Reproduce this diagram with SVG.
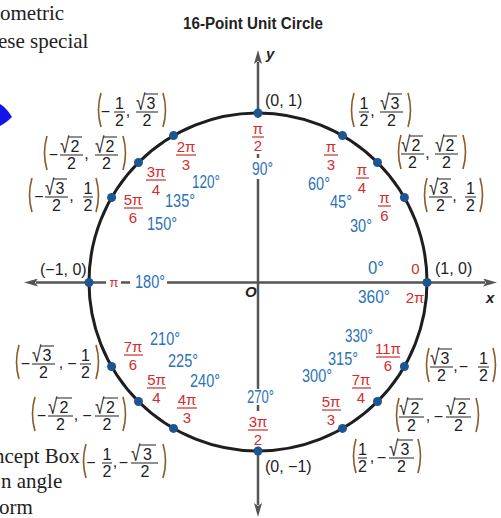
<svg xmlns="http://www.w3.org/2000/svg" width="501" height="518" viewBox="0 0 501 518">
<style>
text{font-family:"Liberation Sans",Arial,sans-serif}
.bk{font-family:"Liberation Serif","Times New Roman",serif;font-size:21px;fill:#222}
.ttl{font-size:16px;font-weight:bold;fill:#222}
.c{font-size:16px;fill:#222;text-anchor:middle}
.cs{font-size:16px;fill:#222}
.sq{font-size:17px;fill:#222}
.d{font-size:18px;fill:#2a72b5}
.r{font-size:15px;fill:#d42b2b;text-anchor:middle}
.rb{stroke:#d42b2b;stroke-width:1.2}
.cb{stroke:#333;stroke-width:1.1}
.ob{stroke:#333;stroke-width:1.1}
.pa{fill:none;stroke:#8a5a28;stroke-width:1.6}
.dot{fill:#1d5590}
.ax{stroke:#555;stroke-width:2.5;fill:none}
.axl{font-size:15px;font-weight:bold;font-style:italic;fill:#222}
</style>
<defs>
<marker id="arr" viewBox="0 0 14 8" refX="2" refY="4" markerWidth="14" markerHeight="8" markerUnits="userSpaceOnUse" orient="auto">
<path d="M0,0 L14,4 L0,8 L3,4 Z" fill="#555"/>
</marker>
</defs>
<rect width="501" height="518" fill="#fff"/>
<g id="page">
<text class="bk" x="0" y="20">ometric</text>
<text class="bk" x="-2" y="48">ese special</text>
<path d="M0,104 C5,107 9,112 12,117 C8,121 4,124 0,126 Z" fill="#1515e8"/>
<text class="bk" x="-6" y="463">ncept Box</text>
<text class="bk" x="1" y="488">n angle</text>
<text class="bk" x="-1" y="514">orm</text>
</g>
<text class="ttl" x="183" y="29" textLength="140" lengthAdjust="spacingAndGlyphs">16-Point Unit Circle</text>
<g id="connectors">
<circle cx="258" cy="282" r="169" fill="none" stroke="#1e1e1e" stroke-width="3"/>
<path class="ax" d="M106,282.5 L36,282.5" marker-end="url(#arr)"/>
<path class="ax" d="M121,282.5 L130,282.5"/>
<path class="ax" d="M167,282.5 L485,282.5" marker-end="url(#arr)"/>
<path class="ax" d="M258,118 L258,62" marker-end="url(#arr)"/>
<path class="ax" d="M258,154 L258,158"/>
<path class="ax" d="M258,179 L258,389"/>
<path class="ax" d="M258,405 L258,411"/>
<path class="ax" d="M258,447 L258,505" marker-end="url(#arr)"/>
</g>
<text class="axl" x="266" y="59">y</text>
<text class="axl" x="486" y="303">x</text>
<text class="axl" x="245" y="297">O</text>

<g id="p0">
<circle class="dot" cx="427" cy="282.5" r="4.5"/>
<text class="cs" x="435" y="274">(1, 0)</text>
<text class="r" x="415.5" y="274">0</text>
<text class="r" x="415" y="303">2π</text>
<text class="d" x="368" y="274" textLength="16" lengthAdjust="spacingAndGlyphs">0°</text>
<text class="d" x="358" y="303" textLength="32" lengthAdjust="spacingAndGlyphs">360°</text>
</g>

<g id="p30">
<circle class="dot" cx="404.4" cy="197.5" r="4.5"/>
<path class="pa" d="M427,178 Q422,195 427,212"/>
<text class="sq" transform="matrix(1,0,0,1.3,429,195)">√</text><line class="ob" x1="437" y1="179" x2="451" y2="179"/><text class="c" x="444" y="194">3</text>
<line class="cb" x1="429" y1="197" x2="452" y2="197"/><text class="c" x="440.5" y="211">2</text>
<text class="c" x="454.5" y="201">,</text>
<text class="c" x="470.5" y="194">1</text><line class="cb" x1="465" y1="197" x2="476" y2="197"/><text class="c" x="470.5" y="211">2</text>
<path class="pa" d="M480,178 Q485,195 480,212"/>
<text class="r" x="384.5" y="203">π</text><line class="rb" x1="378" y1="206" x2="391" y2="206"/><text class="r" x="384.5" y="221">6</text>
<text class="d" x="350" y="232" textLength="22" lengthAdjust="spacingAndGlyphs">30°</text>
</g>

<g id="p45">
<circle class="dot" cx="377.5" cy="162.5" r="4.5"/>
<path class="pa" d="M401,135 Q396,152 401,169"/>
<text class="sq" transform="matrix(1,0,0,1.3,401,152)">√</text><line class="ob" x1="409" y1="136" x2="423" y2="136"/><text class="c" x="416" y="151">2</text>
<line class="cb" x1="401" y1="154" x2="424" y2="154"/><text class="c" x="412.5" y="168">2</text>
<text class="c" x="427.5" y="158">,</text>
<text class="sq" transform="matrix(1,0,0,1.3,435,152)">√</text><line class="ob" x1="443" y1="136" x2="457" y2="136"/><text class="c" x="450" y="151">2</text>
<line class="cb" x1="435" y1="154" x2="458" y2="154"/><text class="c" x="446.5" y="168">2</text>
<path class="pa" d="M463,135 Q468,152 463,169"/>
<text class="r" x="362" y="175">π</text><line class="rb" x1="356" y1="178" x2="369" y2="178"/><text class="r" x="362" y="193">4</text>
<text class="d" x="330" y="208" textLength="22" lengthAdjust="spacingAndGlyphs">45°</text>
</g>

<g id="p60">
<circle class="dot" cx="342.5" cy="135.6" r="4.5"/>
<path class="pa" d="M354,93 Q349,110 354,127"/>
<text class="c" x="364" y="109">1</text><line class="cb" x1="359" y1="112" x2="369" y2="112"/><text class="c" x="364" y="126">2</text>
<text class="c" x="372.5" y="116">,</text>
<text class="sq" transform="matrix(1,0,0,1.3,380,110)">√</text><line class="ob" x1="388" y1="94" x2="402" y2="94"/><text class="c" x="395" y="109">3</text>
<line class="cb" x1="380" y1="112" x2="403" y2="112"/><text class="c" x="391.5" y="126">2</text>
<path class="pa" d="M408,93 Q413,110 408,127"/>
<text class="r" x="331" y="152">π</text><line class="rb" x1="324" y1="155" x2="338" y2="155"/><text class="r" x="331" y="170">3</text>
<text class="d" x="308" y="190" textLength="22" lengthAdjust="spacingAndGlyphs">60°</text>
</g>

<g id="p90">
<circle class="dot" cx="258" cy="113" r="4.5"/>
<text class="cs" x="265" y="106">(0, 1)</text>
<text class="r" x="258" y="134">π</text><line class="rb" x1="252" y1="137" x2="264" y2="137"/><text class="r" x="258" y="151">2</text>
<text class="d" x="252" y="175" textLength="21" lengthAdjust="spacingAndGlyphs">90°</text>
</g>

<g id="p120">
<circle class="dot" cx="173.5" cy="135.6" r="4.5"/>
<path class="pa" d="M101,93 Q96,110 101,127"/>
<text class="c" x="105.5" y="117">−</text>
<text class="c" x="119.5" y="109">1</text><line class="cb" x1="114" y1="112" x2="125" y2="112"/><text class="c" x="119.5" y="126">2</text>
<text class="c" x="128" y="116">,</text>
<text class="sq" transform="matrix(1,0,0,1.3,136,110)">√</text><line class="ob" x1="144" y1="94" x2="158" y2="94"/><text class="c" x="151" y="109">3</text>
<line class="cb" x1="136" y1="112" x2="158" y2="112"/><text class="c" x="147" y="126">2</text>
<path class="pa" d="M163,93 Q168,110 163,127"/>
<text class="r" x="186" y="152">2π</text><line class="rb" x1="176" y1="155" x2="196" y2="155"/><text class="r" x="186" y="170">3</text>
<text class="d" x="192" y="188" textLength="28" lengthAdjust="spacingAndGlyphs">120°</text>
</g>

<g id="p135">
<circle class="dot" cx="138.5" cy="162.5" r="4.5"/>
<path class="pa" d="M47,136 Q42,153 47,170"/>
<text class="c" x="53.5" y="160">−</text>
<text class="sq" transform="matrix(1,0,0,1.3,60,153)">√</text><line class="ob" x1="68" y1="137" x2="82" y2="137"/><text class="c" x="75" y="152">2</text>
<line class="cb" x1="60" y1="155" x2="83" y2="155"/><text class="c" x="71.5" y="169">2</text>
<text class="c" x="86.5" y="159">,</text>
<text class="sq" transform="matrix(1,0,0,1.3,95,153)">√</text><line class="ob" x1="103" y1="137" x2="117" y2="137"/><text class="c" x="110" y="152">2</text>
<line class="cb" x1="95" y1="155" x2="118" y2="155"/><text class="c" x="106.5" y="169">2</text>
<path class="pa" d="M123,136 Q128,153 123,170"/>
<text class="r" x="156" y="177">3π</text><line class="rb" x1="146" y1="180" x2="166" y2="180"/><text class="r" x="156" y="195">4</text>
<text class="d" x="165" y="207" textLength="30" lengthAdjust="spacingAndGlyphs">135°</text>
</g>

<g id="p150">
<circle class="dot" cx="111.6" cy="197.5" r="4.5"/>
<path class="pa" d="M32,178 Q27,195 32,212"/>
<text class="c" x="39" y="202">−</text>
<text class="sq" transform="matrix(1,0,0,1.3,45,195)">√</text><line class="ob" x1="53" y1="179" x2="67" y2="179"/><text class="c" x="60" y="194">3</text>
<line class="cb" x1="45" y1="197" x2="68" y2="197"/><text class="c" x="56.5" y="211">2</text>
<text class="c" x="71.5" y="201">,</text>
<text class="c" x="88" y="194">1</text><line class="cb" x1="83" y1="197" x2="93" y2="197"/><text class="c" x="88" y="211">2</text>
<path class="pa" d="M96,178 Q101,195 96,212"/>
<text class="r" x="133" y="205">5π</text><line class="rb" x1="124" y1="208" x2="143" y2="208"/><text class="r" x="133" y="223">6</text>
<text class="d" x="147" y="230" textLength="30" lengthAdjust="spacingAndGlyphs">150°</text>
</g>

<g id="p180">
<circle class="dot" cx="89" cy="282.5" r="4.5"/>
<text class="cs" x="40" y="275">(−1, 0)</text>
<text class="r" x="114" y="287" style="font-size:13px">π</text>
<text class="d" x="135" y="288" textLength="30" lengthAdjust="spacingAndGlyphs">180°</text>
</g>

<g id="p210">
<circle class="dot" cx="111.6" cy="366.5" r="4.5"/>
<path class="pa" d="M19,345 Q14,362 19,379"/>
<text class="c" x="25.5" y="369">−</text>
<text class="sq" transform="matrix(1,0,0,1.3,32,362)">√</text><line class="ob" x1="40" y1="346" x2="54" y2="346"/><text class="c" x="47" y="361">3</text>
<line class="cb" x1="32" y1="364" x2="55" y2="364"/><text class="c" x="43.5" y="378">2</text>
<text class="c" x="61" y="368">,</text>
<text class="c" x="72" y="369">−</text>
<text class="c" x="85.5" y="361">1</text><line class="cb" x1="80" y1="364" x2="91" y2="364"/><text class="c" x="85.5" y="378">2</text>
<path class="pa" d="M96,345 Q101,362 96,379"/>
<text class="r" x="133" y="352">7π</text><line class="rb" x1="124" y1="355" x2="143" y2="355"/><text class="r" x="133" y="370">6</text>
<text class="d" x="150" y="345" textLength="30" lengthAdjust="spacingAndGlyphs">210°</text>
</g>

<g id="p225">
<circle class="dot" cx="138.5" cy="401.5" r="4.5"/>
<path class="pa" d="M35,397 Q30,414 35,431"/>
<text class="c" x="41.5" y="421">−</text>
<text class="sq" transform="matrix(1,0,0,1.3,48,414)">√</text><line class="ob" x1="56" y1="398" x2="72" y2="398"/><text class="c" x="64" y="413">2</text>
<line class="cb" x1="48" y1="416" x2="73" y2="416"/><text class="c" x="60.5" y="430">2</text>
<text class="c" x="76" y="420">,</text>
<text class="c" x="87" y="421">−</text>
<text class="sq" transform="matrix(1,0,0,1.3,95,414)">√</text><line class="ob" x1="103" y1="398" x2="118" y2="398"/><text class="c" x="110.5" y="413">2</text>
<line class="cb" x1="95" y1="416" x2="119" y2="416"/><text class="c" x="107" y="430">2</text>
<path class="pa" d="M123,397 Q128,414 123,431"/>
<text class="r" x="156.5" y="385">5π</text><line class="rb" x1="147" y1="388" x2="166" y2="388"/><text class="r" x="156.5" y="403">4</text>
<text class="d" x="168" y="367" textLength="30" lengthAdjust="spacingAndGlyphs">225°</text>
</g>

<g id="p240">
<circle class="dot" cx="173.5" cy="428.4" r="4.5"/>
<path class="pa" d="M86,444 Q81,461 86,478"/>
<text class="c" x="91" y="468">−</text>
<text class="c" x="107" y="460">1</text><line class="cb" x1="102" y1="463" x2="112" y2="463"/><text class="c" x="107" y="477">2</text>
<text class="c" x="115" y="467">,</text>
<text class="c" x="123.5" y="468">−</text>
<text class="sq" transform="matrix(1,0,0,1.3,131,461)">√</text><line class="ob" x1="139" y1="445" x2="156" y2="445"/><text class="c" x="147.5" y="460">3</text>
<line class="cb" x1="131" y1="463" x2="158" y2="463"/><text class="c" x="145" y="477">2</text>
<path class="pa" d="M163,444 Q168,461 163,478"/>
<text class="r" x="187" y="405">4π</text><line class="rb" x1="177" y1="408" x2="197" y2="408"/><text class="r" x="187" y="423">3</text>
<text class="d" x="190" y="387" textLength="30" lengthAdjust="spacingAndGlyphs">240°</text>
</g>

<g id="p270">
<circle class="dot" cx="258" cy="451" r="4.5"/>
<text class="cs" x="265" y="472">(0, −1)</text>
<text class="r" x="258" y="427">3π</text><line class="rb" x1="248" y1="430" x2="268" y2="430"/><text class="r" x="258" y="445">2</text>
<text class="d" x="247" y="403" textLength="27" lengthAdjust="spacingAndGlyphs">270°</text>
</g>

<g id="p300">
<circle class="dot" cx="342.5" cy="428.4" r="4.5"/>
<path class="pa" d="M356,439 Q351,456 356,473"/>
<text class="c" x="362.5" y="455">1</text><line class="cb" x1="358" y1="458" x2="367" y2="458"/><text class="c" x="362.5" y="472">2</text>
<text class="c" x="372" y="462">,</text>
<text class="c" x="381.5" y="463">−</text>
<text class="sq" transform="matrix(1,0,0,1.3,389,456)">√</text><line class="ob" x1="397" y1="440" x2="413" y2="440"/><text class="c" x="405" y="455">3</text>
<line class="cb" x1="389" y1="458" x2="414" y2="458"/><text class="c" x="401.5" y="472">2</text>
<path class="pa" d="M418,439 Q423,456 418,473"/>
<text class="r" x="331" y="407">5π</text><line class="rb" x1="322" y1="410" x2="341" y2="410"/><text class="r" x="331" y="425">3</text>
<text class="d" x="302" y="382" textLength="30" lengthAdjust="spacingAndGlyphs">300°</text>
</g>

<g id="p315">
<circle class="dot" cx="377.5" cy="401.5" r="4.5"/>
<path class="pa" d="M399,398 Q394,415 399,432"/>
<text class="sq" transform="matrix(1,0,0,1.3,399,415)">√</text><line class="ob" x1="407" y1="399" x2="423" y2="399"/><text class="c" x="415" y="414">2</text>
<line class="cb" x1="399" y1="417" x2="424" y2="417"/><text class="c" x="411.5" y="431">2</text>
<text class="c" x="428" y="421">,</text>
<text class="c" x="438.5" y="422">−</text>
<text class="sq" transform="matrix(1,0,0,1.3,446,415)">√</text><line class="ob" x1="454" y1="399" x2="470" y2="399"/><text class="c" x="462" y="414">2</text>
<line class="cb" x1="446" y1="417" x2="471" y2="417"/><text class="c" x="458.5" y="431">2</text>
<path class="pa" d="M476,398 Q481,415 476,432"/>
<text class="r" x="361" y="385">7π</text><line class="rb" x1="352" y1="388" x2="371" y2="388"/><text class="r" x="361" y="403">4</text>
<text class="d" x="328" y="365" textLength="30" lengthAdjust="spacingAndGlyphs">315°</text>
</g>

<g id="p330">
<circle class="dot" cx="404.4" cy="366.5" r="4.5"/>
<path class="pa" d="M429,348 Q424,365 429,382"/>
<text class="sq" transform="matrix(1,0,0,1.3,430,365)">√</text><line class="ob" x1="438" y1="349" x2="452" y2="349"/><text class="c" x="445" y="364">3</text>
<line class="cb" x1="430" y1="367" x2="453" y2="367"/><text class="c" x="441.5" y="381">2</text>
<text class="c" x="455.5" y="371">,</text>
<text class="c" x="463.5" y="372">−</text>
<text class="c" x="483.5" y="364">1</text><line class="cb" x1="478" y1="367" x2="489" y2="367"/><text class="c" x="483.5" y="381">2</text>
<path class="pa" d="M493,348 Q498,365 493,382"/>
<text class="r" x="388" y="354">11π</text><line class="rb" x1="376" y1="357" x2="400" y2="357"/><text class="r" x="388" y="371">6</text>
<text class="d" x="345" y="342" textLength="28" lengthAdjust="spacingAndGlyphs">330°</text>
</g>
</svg>
